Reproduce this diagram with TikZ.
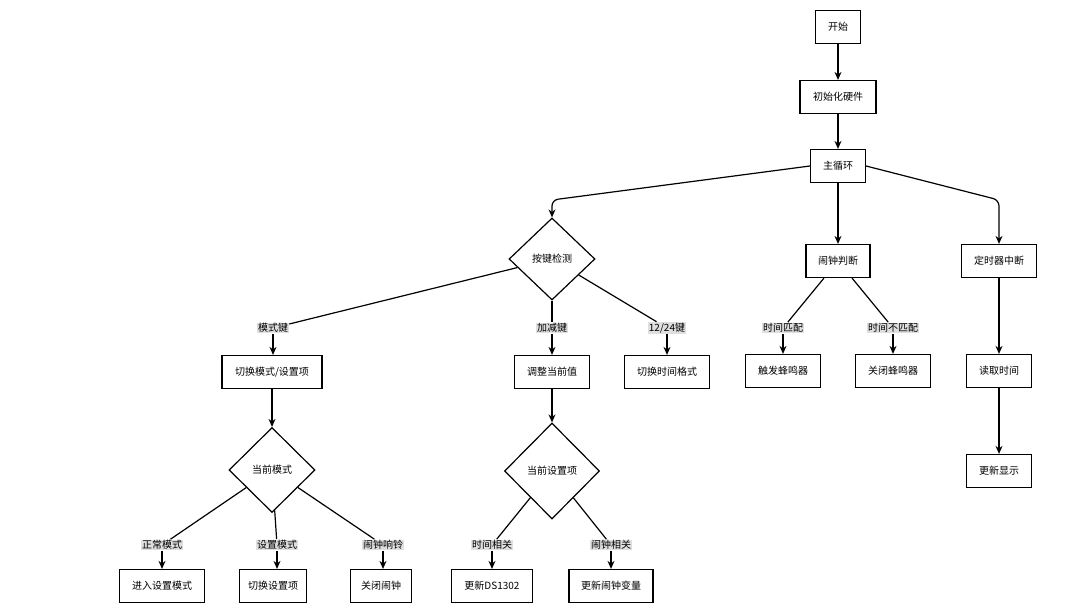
\documentclass[tikz,border=0pt]{standalone}
\usepackage{fontspec}
\setmainfont{Noto Sans CJK SC}
\usetikzlibrary{arrows.meta,shapes.geometric}

\begin{document}
\begin{tikzpicture}[x=1pt,y=-1pt,>={Stealth[length=8pt,width=7pt]}, line width=1.2pt, every node/.style={font=\fontsize{10}{12}\selectfont}]
    % Styles
    \tikzset{proc/.style   ={draw,fill=white,minimum height=33pt,inner sep=0pt}}
    \tikzset{cond/.style   ={draw,fill=white,diamond,inner sep=0pt}}
    \tikzset{edgelbl/.style={fill=gray!25,inner sep=0.6pt}}
    \tikzset{flow/.style   ={->}}

    % Canvas
    \path[fill=white] (0,0) rectangle (1080,610);
    \useasboundingbox (0,0) rectangle (1080,610);

    % Main trunk
    \node[proc,minimum width=45pt] (start)    at (838,27)  {开始};
    \node[proc,minimum width=76pt] (init)     at (838,97)  {初始化硬件};
    \node[proc,minimum width=55pt] (loop)     at (838,166) {主循环};
    \node[cond,minimum width=86pt,minimum height=82pt] (keychk) at (552,259) {按键检测};
    \node[proc,minimum width=64pt] (alarmchk) at (838,261) {闹钟判断};
    \node[proc,minimum width=75pt] (timerint) at (999,261) {定时器中断};

    % Branch labels (first level)
    \node[edgelbl] (lmode)    at (273,328) {模式键};
    \node[edgelbl] (ladj)     at (552,328) {加减键};
    \node[edgelbl] (lfmt)     at (667,328) {12/24键};
    \node[edgelbl] (lmatch)   at (783,328) {时间匹配};
    \node[edgelbl] (lnomatch) at (893,328) {时间不匹配};

    % Second row
    \node[proc,minimum width=100pt] (switchmode) at (272,372) {切换模式/设置项};
    \node[proc,minimum width=75pt]  (adjust)     at (552,372) {调整当前值};
    \node[proc,minimum width=85pt]  (fmt)        at (667,372) {切换时间格式};
    \node[proc,minimum width=75pt]  (buzzon)     at (783,371) {触发蜂鸣器};
    \node[proc,minimum width=75pt]  (buzzoff)    at (893,371) {关闭蜂鸣器};
    \node[proc,minimum width=65pt]  (readtime)   at (999,371) {读取时间};
    \node[proc,minimum width=65pt]  (display)    at (999,471) {更新显示};

    % Decisions
    \node[cond,minimum width=86pt,minimum height=85pt] (curmode) at (272,470) {当前模式};
    \node[cond,minimum width=95pt,minimum height=96pt] (curitem) at (552,471) {当前设置项};

    % Branch labels (second level)
    \node[edgelbl] (lnormal) at (162,545) {正常模式};
    \node[edgelbl] (lset)    at (277,545) {设置模式};
    \node[edgelbl] (lring)   at (383,545) {闹钟响铃};
    \node[edgelbl] (ltime)   at (492,545) {时间相关};
    \node[edgelbl] (lalarm)  at (611,545) {闹钟相关};

    % Bottom row
    \node[proc,minimum width=85pt] (enterset)   at (162,586) {进入设置模式};
    \node[proc,minimum width=67pt] (switchitem) at (273,586) {切换设置项};
    \node[proc,minimum width=61pt] (closealarm) at (381,586) {关闭闹钟};
    \node[proc,minimum width=81pt] (updds)      at (492,586) {更新DS1302};
    \node[proc,minimum width=84pt] (updalarm)   at (611,586) {更新闹钟变量};

    % Trunk arrows
    \draw[flow] (start) -- (init);
    \draw[flow] (init) -- (loop);
    \draw[flow] (loop) -- (alarmchk);
    \draw[flow,rounded corners=6pt] (loop.west) -- (keychk.north |- 0,200) -- (keychk.north);
    \draw[flow,rounded corners=6pt] (loop.east) -- (timerint.north |- 0,200) -- (timerint.north);
    \draw[flow] (timerint) -- (readtime);
    \draw[flow] (readtime) -- (display);

    % Key branches
    \draw (keychk) -- (lmode);  \draw[flow] (lmode) -- (lmode |- switchmode.north);
    \draw (keychk) -- (ladj);   \draw[flow] (ladj) -- (ladj |- adjust.north);
    \draw (keychk) -- (lfmt);   \draw[flow] (lfmt) -- (lfmt |- fmt.north);

    % Alarm branches
    \draw (alarmchk) -- (lmatch);   \draw[flow] (lmatch) -- (lmatch |- buzzon.north);
    \draw (alarmchk) -- (lnomatch); \draw[flow] (lnomatch) -- (lnomatch |- buzzoff.north);

    % Into the decisions
    \draw[flow] (switchmode) -- (curmode);
    \draw[flow] (adjust) -- (curitem);

    % Mode branches
    \draw (curmode) -- (lnormal); \draw[flow] (lnormal) -- (lnormal |- enterset.north);
    \draw (curmode) -- (lset);    \draw[flow] (lset) -- (lset |- switchitem.north);
    \draw (curmode) -- (lring);   \draw[flow] (lring) -- (lring |- closealarm.north);

    % Setting item branches
    \draw (curitem) -- (ltime);  \draw[flow] (ltime) -- (ltime |- updds.north);
    \draw (curitem) -- (lalarm); \draw[flow] (lalarm) -- (lalarm |- updalarm.north);
\end{tikzpicture}
\end{document}
